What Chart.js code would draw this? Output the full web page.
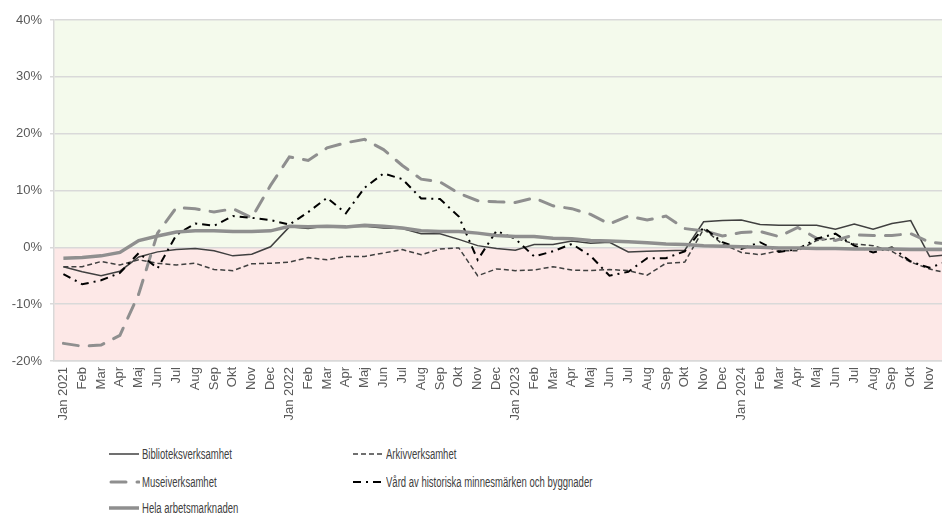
<!DOCTYPE html>
<html>
<head>
<meta charset="utf-8">
<script src="https://cdn.jsdelivr.net/npm/chart.js@4"></script>
<style>
  html, body { margin: 0; padding: 0; background: #fff; overflow: hidden; width: 942px; height: 514px; }
  #wrap { position: absolute; left: 0; top: 0; width: 970px; height: 440px; }
  #chart { display: block; width: 970px; height: 440px; }
  .item { position: absolute; height: 20px; display: flex; align-items: center; }
  .item svg { display: block; flex: none; }
  .item span { font: 14px "Liberation Sans", Arial, sans-serif; color: #404040; transform: scaleX(0.68); transform-origin: left center; white-space: nowrap; margin-left: 2px; }
</style>
</head>
<body>
<div id="wrap"><canvas id="chart" width="970" height="440"></canvas></div>
<div id="legend"></div>
<script>
// månader jan 2021 - dec 2024
const labels = [
  "Jan 2021", "Feb", "Mar", "Apr", "Maj", "Jun", "Jul", "Aug", "Sep", "Okt", "Nov", "Dec",
  "Jan 2022", "Feb", "Mar", "Apr", "Maj", "Jun", "Jul", "Aug", "Sep", "Okt", "Nov", "Dec",
  "Jan 2023", "Feb", "Mar", "Apr", "Maj", "Jun", "Jul", "Aug", "Sep", "Okt", "Nov", "Dec",
  "Jan 2024", "Feb", "Mar", "Apr", "Maj", "Jun", "Jul", "Aug", "Sep", "Okt", "Nov", "Dec"
];

const bibliotek = [
  -3.4, -4.3, -5.0, -4.2, -1.7, -0.8, -0.4, -0.2, -0.6, -1.5, -1.2, 0.1,
  3.6, 3.3, 3.8, 3.6, 3.7, 3.4, 3.3, 2.4, 2.4, 1.4, 0.3, -0.2,
  -0.5, 0.5, 0.5, 1.1, 0.7, 0.9, -0.8, -0.7, -0.6, -0.5, 4.5, 4.7,
  4.8, 4.0, 3.9, 3.9, 3.9, 3.2, 4.1, 3.2, 4.2, 4.7, -1.6, -1.3
];
const arkiv = [
  -3.4, -3.4, -2.5, -3.1, -2.2, -2.8, -3.1, -2.8, -3.9, -4.1, -2.9, -2.8,
  -2.6, -1.8, -2.2, -1.6, -1.6, -1.0, -0.4, -1.3, -0.3, -0.1, -5.0, -3.8,
  -4.1, -4.0, -3.4, -4.0, -4.1, -3.9, -4.1, -4.9, -2.8, -2.6, 3.2, 0.6,
  -0.9, -1.3, -0.6, -0.6, 1.2, 1.6, 0.6, 0.3, -0.7, -2.6, -3.8, -4.6
];
const museum = [
  -16.9, -17.4, -17.2, -15.5, -8.2, 2.5, 7.0, 6.8, 6.2, 6.8, 5.2, 10.9,
  15.9, 15.3, 17.5, 18.4, 19.0, 17.2, 14.4, 12.0, 11.5, 9.5, 8.2, 8.0,
  7.9, 8.7, 7.3, 6.8, 5.8, 4.1, 5.5, 4.8, 5.5, 3.3, 2.9, 2.0,
  2.6, 2.8, 1.9, 3.5, 1.6, 1.2, 2.2, 2.1, 2.1, 2.4, 0.9, 0.6
];
const vard = [
  -4.7, -6.5, -5.8, -4.5, -1.0, -3.7, 2.2, 4.2, 3.8, 5.5, 5.2, 4.8,
  4.0, 6.2, 8.7, 6.0, 10.5, 13.0, 12.0, 8.6, 8.5, 5.4, -2.2, 2.9,
  1.5, -1.6, -0.7, 0.6, -1.5, -5.0, -4.3, -1.9, -1.9, -0.7, 3.5, 0.9,
  -0.3, 0.9, -0.8, -0.3, 1.5, 2.4, 0.3, -0.9, 0.0, -2.5, -3.6, -2.4
];
const hela = [
  -1.9, -1.8, -1.5, -0.9, 1.2, 2.0, 2.7, 2.9, 2.9, 2.8, 2.8, 2.9,
  3.7, 3.6, 3.7, 3.6, 3.9, 3.7, 3.4, 2.9, 2.8, 2.8, 2.5, 2.1,
  1.9, 1.9, 1.6, 1.5, 1.2, 1.1, 1.0, 0.8, 0.6, 0.5, 0.3, 0.2,
  0.1, 0.0, -0.1, -0.1, -0.2, -0.2, -0.3, -0.3, -0.3, -0.4, -0.4, -0.4
];

const yTicks = [-20, -10, 0, 10, 20, 30, 40];

const datasets = [
  { label: "Biblioteksverksamhet", data: bibliotek, borderColor: "#404040", borderWidth: 1.5, borderDash: [], order: 5 },
  { label: "Arkivverksamhet", data: arkiv, borderColor: "#404040", borderWidth: 1.5, borderDash: [5, 3], order: 4 },
  { label: "Museiverksamhet", data: museum, borderColor: "#8f8f8f", borderWidth: 3, borderDash: [15, 11], borderCapStyle: "round", order: 3 },
  { label: "Vård av historiska minnesmärken och byggnader", data: vard, borderColor: "#000000", borderWidth: 2, borderDash: [8, 5, 2, 5], order: 2 },
  { label: "Hela arbetsmarknaden", data: hela, borderColor: "#8f8f8f", borderWidth: 3.5, borderDash: [], order: 1 }
];
datasets.forEach((d) => {
  d.pointRadius = 0;
  d.tension = 0;
  d.fill = false;
});

// grön/röd bakgrund ovan/under noll
const bands = {
  id: "bands",
  beforeDraw(chart) {
    const { ctx, chartArea: a, scales: { y } } = chart;
    const zero = y.getPixelForValue(0);
    ctx.save();
    ctx.fillStyle = "#f4faec";
    ctx.fillRect(a.left, a.top, a.right - a.left, zero - a.top);
    ctx.fillStyle = "#fde8e7";
    ctx.fillRect(a.left, zero, a.right - a.left, a.bottom - zero);
    ctx.restore();
  }
};

const font = { family: "'Liberation Sans', Arial, sans-serif", size: 13 };

new Chart(document.getElementById("chart"), {
  type: "line",
  data: { labels, datasets },
  plugins: [bands],
  options: {
    responsive: false,
    animation: false,
    devicePixelRatio: 1,
    layout: { padding: { top: 20, left: 0, right: 0, bottom: 0 } },
    plugins: { legend: { display: false }, tooltip: { enabled: false } },
    scales: {
      x: {
        offset: true,
        grid: { display: false, drawTicks: false },
        border: { display: true, color: "#d9d9d9", width: 1.5 },
        ticks: { autoSkip: false, maxRotation: 90, minRotation: 90, padding: 6, color: "#595959", font },
        afterFit: (scale) => { scale.height = 79; }
      },
      y: {
        min: -20,
        max: 40,
        afterBuildTicks: (scale) => { scale.ticks = yTicks.map((v) => ({ value: v })); },
        grid: { color: "#d9d9d9", lineWidth: 1.5, tickLength: 4 },
        border: { display: true, color: "#d9d9d9", width: 1.5 },
        ticks: { padding: 8, color: "#595959", font, callback: (v) => v + "%" },
        afterFit: (scale) => { scale.width = 54; }
      }
    }
  }
});

// legend i två kolumner
const legendPos = [[109, 444], [353, 444], [109, 472], [353, 472], [109, 498]];
const legend = document.getElementById("legend");
datasets.forEach((d, i) => {
  const item = document.createElement("div");
  item.className = "item";
  item.style.left = legendPos[i][0] + "px";
  item.style.top = legendPos[i][1] + "px";
  const dash = d.borderDash.length ? ` stroke-dasharray="${d.borderDash.join(" ")}"` : "";
  const cap = d.borderCapStyle === "round" ? "round" : "butt";
  item.innerHTML =
    `<svg width="31" height="10"><line x1="${cap === "round" ? 2 : 0}" y1="5" x2="30" y2="5" stroke="${d.borderColor}" stroke-width="${d.borderWidth}" stroke-linecap="${cap}"${dash}/></svg>` +
    `<span>${d.label}</span>`;
  legend.appendChild(item);
});
</script>
</body>
</html>
